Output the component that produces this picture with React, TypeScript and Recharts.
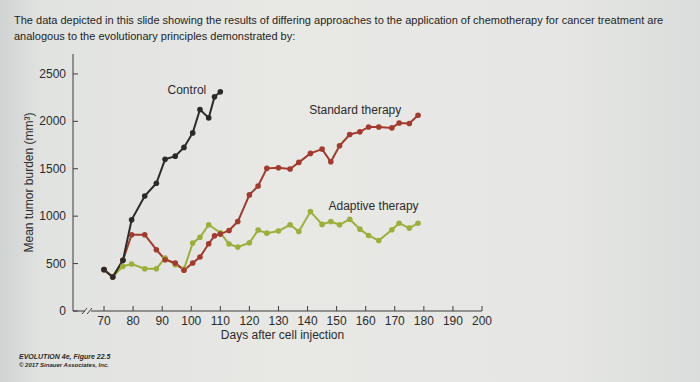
import React from "react";
import { LineChart, Line, XAxis, YAxis, ReferenceDot } from "recharts";

// measurement days (days after cell injection)
const days = [
  70, 73, 76.5, 79.5, 84, 88, 91, 94.5, 97.5, 100.5, 103, 106, 108, 110, 113, 116, 120, 123, 126, 130, 134, 137,
  141, 145, 148, 151, 154.5, 158, 161, 164.5, 169, 171.5, 175, 178,
];

// mean tumor burden (mm³)
const control = [436, 359, 534, 961, 1213, 1347, 1599, 1633, 1725, 1878, 2124, 2036, 2258, 2311];
const standard = [
  436, 359, 534, 804, 804, 646, 541, 506, 429, 506, 569, 709, 793, 811, 849, 943, 1224, 1318, 1504, 1510, 1497,
  1567, 1662, 1707, 1574, 1742, 1861, 1889, 1941, 1941, 1931, 1983, 1977, 2064,
];
const adaptive = [
  436, 359, 471, 496, 446, 446, 559, 488, 443, 716, 777, 909, null, 825, 706, 674, 720, 853, 821, 843, 909, 838,
  1048, 913, 943, 909, 968, 863, 796, 743, 856, 926, 874, 926,
];

const xTicks = [70, 80, 90, 100, 110, 120, 130, 140, 150, 160, 170, 180, 190, 200];
const yTicks = [0, 500, 1000, 1500, 2000, 2500];

const data = days.map((d, i) => ({
  day: d,
  control: i < control.length ? control[i] : null,
  standard: standard[i],
  adaptive: adaptive[i],
}));

const AXIS = "#3d3d3d";
const FONT = "'Liberation Sans', Arial, sans-serif";
const C_CONTROL = "#2a2a2a";
const C_STANDARD = "#a23a2e";
const C_ADAPTIVE = "#9bb03a";

const XTick = ({ x, y, payload }: any) => (
  <g>
    <line x1={x} x2={x} y1={y} y2={y - 5} stroke={AXIS} strokeWidth={1} />
    <text x={x} y={y + 14} textAnchor="middle" fill="#2b2b2b" fontSize={12} fontFamily={FONT}>
      {payload.value}
    </text>
  </g>
);

const YTick = ({ x, y, payload }: any) => (
  <g>
    <line x1={x} x2={x + 5} y1={y} y2={y} stroke={AXIS} strokeWidth={1} />
    <text x={x - 7} y={y + 4} textAnchor="end" fill="#2b2b2b" fontSize={12} fontFamily={FONT}>
      {payload.value}
    </text>
  </g>
);

const AxisBreak = ({ cx, cy }: any) => (
  <g>
    <rect x={cx - 3} y={cy - 3} width={6} height={6} fill="#e6e7e3" />
    <line x1={cx - 6} y1={cy + 3} x2={cx - 1} y2={cy - 3} stroke={AXIS} strokeWidth={1} />
    <line x1={cx - 1} y1={cy + 3} x2={cx + 4} y2={cy - 3} stroke={AXIS} strokeWidth={1} />
  </g>
);

const lineLabel = (value: string) => ({
  value,
  position: "center" as const,
  fill: "#2b2b2b",
  fontSize: 12,
  fontFamily: FONT,
});

export default function App() {
  return (
    <div
      style={{
        position: "relative",
        width: 700,
        height: 382,
        overflow: "hidden",
        background: "linear-gradient(90deg, #cfd3d2 0%, #e1e3e0 6%, #e8e8e5 40%, #e6e7e4 80%, #dadddb 100%)",
        fontFamily: FONT,
      }}
    >
      <style>{`body{margin:0}`}</style>
      <div style={{ position: "absolute", left: 14, top: 12, fontSize: 11, lineHeight: "16px", color: "#1e1e1e", width: 680 }}>
        The data depicted in this slide showing the results of differing approaches to the application of chemotherapy for
        cancer treatment are
        <br />
        analogous to the evolutionary principles demonstrated by:
      </div>
      <div style={{ position: "absolute", left: 0, top: 0 }}>
        <LineChart width={700} height={382} data={data} margin={{ top: 54, right: 218, bottom: 41, left: 0 }}>
          <XAxis
            dataKey="day"
            type="number"
            domain={[59.33, 200]}
            ticks={xTicks}
            interval={0}
            tick={<XTick />}
            tickSize={0}
            tickMargin={0}
            height={30}
            axisLine={{ stroke: AXIS, strokeWidth: 1 }}
            label={{ value: "Days after cell injection", position: "insideBottom", offset: 2, dx: 5, fill: "#2b2b2b", fontSize: 12, fontFamily: FONT }}
          />
          <YAxis
            type="number"
            domain={[0, 2710]}
            ticks={yTicks}
            interval={0}
            width={73}
            tick={<YTick />}
            tickSize={0}
            tickMargin={0}
            axisLine={{ stroke: AXIS, strokeWidth: 1 }}
            label={{ value: "Mean tumor burden (mm³)", angle: -90, position: "center", dx: -8, fill: "#2b2b2b", fontSize: 12, fontFamily: FONT }}
          />
          <ReferenceDot x={64.5} y={0} r={0} shape={<AxisBreak />} ifOverflow="visible" />
          <Line
            dataKey="adaptive"
            stroke={C_ADAPTIVE}
            strokeWidth={2}
            connectNulls
            dot={{ r: 2.8, fill: C_ADAPTIVE, stroke: C_ADAPTIVE, strokeWidth: 0 }}
            activeDot={false}
            isAnimationActive={false}
          />
          <Line
            dataKey="standard"
            stroke={C_STANDARD}
            strokeWidth={2}
            dot={{ r: 2.8, fill: C_STANDARD, stroke: C_STANDARD, strokeWidth: 0 }}
            activeDot={false}
            isAnimationActive={false}
          />
          <Line
            dataKey="control"
            stroke={C_CONTROL}
            strokeWidth={2}
            dot={{ r: 2.8, fill: C_CONTROL, stroke: C_CONTROL, strokeWidth: 0 }}
            activeDot={false}
            isAnimationActive={false}
          />
          <ReferenceDot x={98.5} y={2337} r={0} ifOverflow="visible" label={lineLabel("Control")} />
          <ReferenceDot x={156.4} y={2127} r={0} ifOverflow="visible" label={lineLabel("Standard therapy")} />
          <ReferenceDot x={162.7} y={1108} r={0} ifOverflow="visible" label={lineLabel("Adaptive therapy")} />
        </LineChart>
      </div>
      <div style={{ position: "absolute", left: 19, top: 353, fontSize: 7, lineHeight: "8px", color: "#2a2a2a", fontStyle: "italic", fontWeight: "bold" }}>
        EVOLUTION 4e, Figure 22.5
        <br />
        <span style={{ fontSize: 6 }}>© 2017 Sinauer Associates, Inc.</span>
      </div>
    </div>
  );
}
